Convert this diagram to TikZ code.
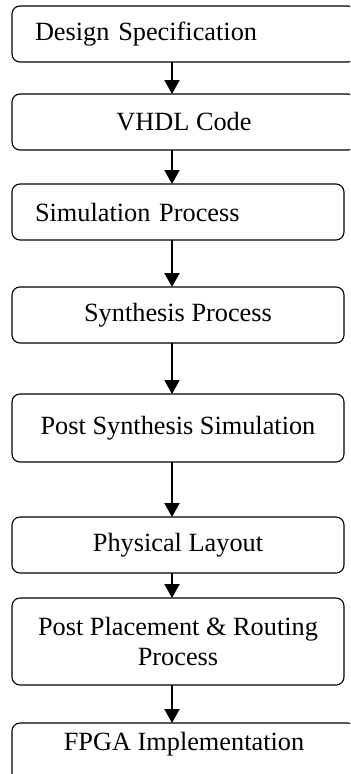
\documentclass[tikz,border=0pt]{standalone}
\usepackage{fontspec}
\setmainfont{Liberation Serif}
\usetikzlibrary{arrows.meta,positioning}
\newcommand\stepfont{\fontsize{26.4}{30}\selectfont}
\tikzset{
  stepbox/.style={draw,rectangle,rounded corners=8bp,line width=1.1bp,outer sep=0pt,minimum height=56bp,font=\stepfont,align=center},
  widebox/.style={stepbox,minimum width=344bp},
  narrowbox/.style={stepbox,minimum width=332bp},
  leftbox/.style={stepbox,align=left,inner xsep=23bp},
  arr/.style={-{Triangle[width=15bp,length=14bp]},line width=2bp}
}
\begin{document}
\begin{tikzpicture}[x=1bp,y=-1bp]
  \useasboundingbox (0,0) rectangle (350,774);
  \clip (0,0) rectangle (350,774);
  \coordinate (ax) at (172,0);

  \node[leftbox, text width=298bp, anchor=north west] (spec) at (12,6) {Design Specification};
  \node[widebox, below=32bp of spec.south west, anchor=north west] (vhdl) {VHDL Code};
  \node[leftbox, text width=286bp, below=34bp of vhdl.south west, anchor=north west] (sim) {Simulation Process};
  \node[narrowbox, below=47bp of sim.south west, anchor=north west] (synth) {Synthesis Process};
  \node[narrowbox, minimum height=68bp, below=51bp of synth.south west, anchor=north west] (postsyn) {Post Synthesis Simulation};
  \node[narrowbox, below=55bp of postsyn.south west, anchor=north west] (layout) {Physical Layout};
  \node[narrowbox, minimum height=87bp, below=25bp of layout.south west, anchor=north west] (par) {Post Placement \& Routing\\Process};
  \node[widebox, inner ysep=5bp, text height=22bp, text depth=30bp, below=38bp of par.south west, anchor=north west] (fpga) {FPGA Implementation};

  \draw[arr] (spec.south -| ax) -- (vhdl.north -| ax);
  \draw[arr] (vhdl.south -| ax) -- (sim.north -| ax);
  \draw[arr] (sim.south -| ax) -- (synth.north -| ax);
  \draw[arr] (synth.south -| ax) -- (postsyn.north -| ax);
  \draw[arr] (postsyn.south -| ax) -- (layout.north -| ax);
  \draw[arr] (layout.south -| ax) -- (par.north -| ax);
  \draw[arr] (par.south -| ax) -- (fpga.north -| ax);
\end{tikzpicture}
\end{document}
